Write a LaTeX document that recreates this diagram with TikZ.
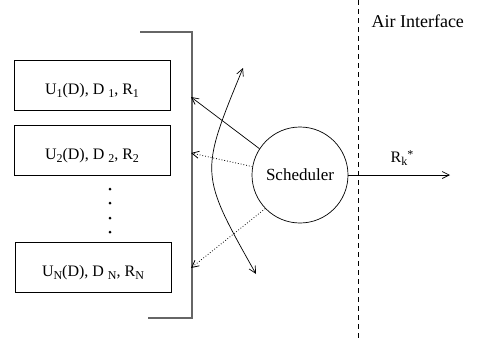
\documentclass[tikz,border=0pt]{standalone}
\usepackage{fontspec}
\setmainfont{Liberation Serif}
\usetikzlibrary{arrows.meta}
\newcommand{\lowsub}[1]{\raisebox{-0.45ex}{\fontsize{12}{12}\selectfont #1}}
\newcommand{\highsup}[1]{\raisebox{0.55ex}{\fontsize{12}{12}\selectfont #1}}
\tikzset{
  userbox/.style={draw, line width=0.7pt, minimum width=156pt, minimum height=50pt, inner sep=0pt, font=\fontsize{16}{16}\selectfont, text height=18pt, text depth=0pt},
  tip/.style={-{Straight Barb[length=7pt,width=7pt]}},
  bracketline/.style={draw=black!60, line width=1.2pt},
  lbl/.style={font=\fontsize{17}{17}\selectfont}
}
\begin{document}
\begin{tikzpicture}[x=1pt,y=-1pt]
\useasboundingbox (0,0) rectangle (479,346);
% bracket
\coordinate (bt) at (140,32);
\coordinate (btr) at (192,32);
\coordinate (bbr) at (192,318);
\coordinate (bb) at (148,318);
\draw[bracketline] (bt) -- (btr) -- (bbr) -- (bb);
% boxes
\node[userbox] (u1) at (92,85.5) {U\lowsub{1}(D), D \lowsub{1}, R\lowsub{1}};
\node[userbox] (u2) at (92,150) {U\lowsub{2}(D), D \lowsub{2}, R\lowsub{2}};
\node[userbox] (un) at (93,267) {U\lowsub{N}(D), D \lowsub{N}, R\lowsub{N}};
% dots
\foreach \y [count=\i] in {189,203,218,232} \fill (110,\y) circle (1.5pt) coordinate (dot\i);
% scheduler
\node[draw, circle, minimum size=96pt, inner sep=0pt, lbl, line width=0.7pt] (sched) at (300,175) {Scheduler};
% targets on bracket
\coordinate (t1) at (191,97);
\coordinate (t2) at (191,153);
\coordinate (tn) at (191,268);
\draw[tip, line width=0.7pt] (sched.147) -- (t1);
\draw[tip, dotted, line width=0.8pt] (sched.170) -- (t2);
\draw[tip, dotted, line width=0.8pt] (sched.224) -- (tn);
% curved double arrow
\coordinate (ca) at (256,274);
\coordinate (cb) at (243,68);
\draw[{Straight Barb[length=7pt,width=7pt]}-{Straight Barb[length=7pt,width=7pt]}, line width=0.7pt] (ca) .. controls (199.5,173.7) .. (cb);
% air interface
\coordinate (dtop) at (358,0);
\coordinate (dbot) at (358,340);
\draw[dashed, line width=0.7pt, dash pattern=on 5pt off 4pt] (dtop) -- (dbot);
\node[lbl, anchor=west, font=\fontsize{18}{18}\selectfont] (air) at (368,21) {Air Interface};
\coordinate (out) at (450,175);
\draw[tip, line width=0.7pt] (sched.east) -- (out);
\node[lbl, font=\fontsize{16}{16}\selectfont] (rk) at (402,158) {R\lowsub{k}\highsup{*}};
\end{tikzpicture}
\end{document}
